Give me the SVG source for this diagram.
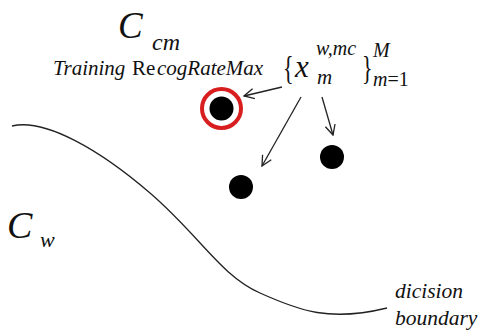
<svg xmlns="http://www.w3.org/2000/svg" width="479" height="336" viewBox="0 0 479 336">
<style>
.t{font-family:"Liberation Serif","Times New Roman",serif;font-style:italic;fill:#111}
.u{font-style:normal}
.conn{stroke:#222;stroke-width:1.3;fill:none}
.dot{fill:#000}
</style>
<defs>
<marker id="arr" viewBox="0 0 12 12" refX="11" refY="6" markerWidth="12" markerHeight="12" markerUnits="userSpaceOnUse" orient="auto">
<path d="M1,1 L11,6 L1,11" fill="none" stroke="#222" stroke-width="1.3"/>
</marker>
</defs>
<rect width="479" height="336" fill="#fff"/>
<g id="label-ccm">
<text class="t" x="118" y="38" font-size="37">C</text>
<text class="t" x="152" y="50" font-size="24">cm</text>
</g>
<g id="label-training">
<text class="t" x="53" y="75" font-size="21">Training<tspan class="u" x="132">Re</tspan><tspan x="157">cogRateMax</tspan></text>
</g>
<g id="label-set">
<text class="t u" font-size="22" transform="translate(283,79) scale(1,1.55)">{</text>
<text class="t" x="295" y="77" font-size="31">x</text>
<text class="t" x="316" y="55" font-size="20">w,mc</text>
<text class="t" x="317" y="84" font-size="21">m</text>
<text class="t u" font-size="22" transform="translate(362,79) scale(1,1.55)">}</text>
<text class="t" x="373" y="57" font-size="20">M</text>
<text class="t" x="373" y="86" font-size="20">m<tspan class="u">=1</tspan></text>
</g>
<g id="label-cw">
<text class="t" x="7" y="238" font-size="38">C</text>
<text class="t" x="40" y="247" font-size="22">w</text>
</g>
<g id="label-boundary">
<text class="t" x="395" y="298" font-size="21.5">dicision</text>
<text class="t" x="395" y="325" font-size="21.5">boundary</text>
</g>
<g id="node-max">
<circle cx="221.5" cy="108.5" r="19.5" fill="none" stroke="#d81e1e" stroke-width="4"/>
<circle class="dot" cx="221.5" cy="108.5" r="12"/>
</g>
<g id="node-b">
<circle class="dot" cx="332" cy="157" r="12"/>
</g>
<g id="node-c">
<circle class="dot" cx="241" cy="187" r="12"/>
</g>
<g id="boundary">
<path class="conn" d="M12,126 C45,118 100,150 150,193 S220,275 260,293 S330,322 387,308"/>
</g>
<g id="connectors">
<line class="conn" x1="282" y1="87" x2="244" y2="96" marker-end="url(#arr)"/>
<line class="conn" x1="301" y1="97" x2="262" y2="166" marker-end="url(#arr)"/>
<line class="conn" x1="322" y1="97" x2="333" y2="135" marker-end="url(#arr)"/>
</g>
</svg>
